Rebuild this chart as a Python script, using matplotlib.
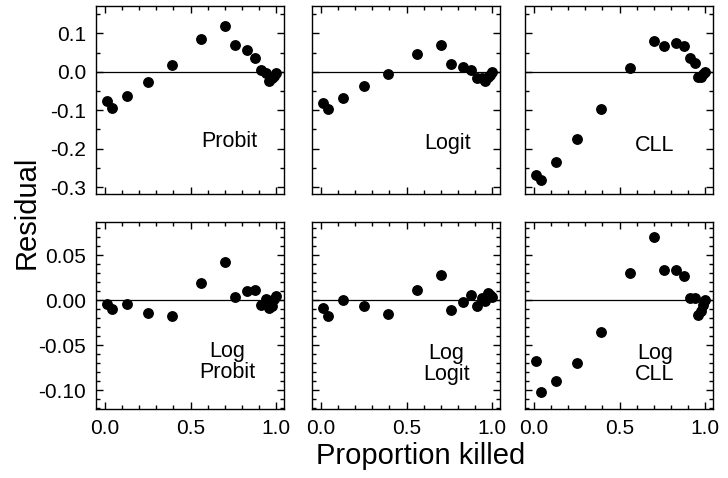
import numpy as np
import matplotlib
matplotlib.use('Agg')
import matplotlib.pyplot as plt
from matplotlib.ticker import MultipleLocator, FormatStrFormatter

plt.rcParams['font.family'] = ['Liberation Sans', 'DejaVu Sans']

# proportion killed (shared by all six panels)
prop_killed = [0.01, 0.04, 0.13, 0.25, 0.39, 0.56, 0.70, 0.76, 0.83, 0.88,
               0.91, 0.94, 0.96, 0.975, 0.99, 1.0]

# residuals
res_probit = [-0.076, -0.094, -0.064, -0.027, 0.017, 0.084, 0.118, 0.070, 0.056, 0.037,
              0.004, -0.002, -0.024, -0.015, -0.011, -0.002]
res_logit = [-0.082, -0.097, -0.067, -0.038, -0.007, 0.047, 0.069, 0.020, 0.012, 0.005,
             -0.016, -0.016, -0.023, -0.014, -0.008, -0.001]
res_cll = [-0.268, -0.281, -0.235, -0.176, -0.098, 0.011, 0.081, 0.066, 0.074, 0.066,
           0.035, 0.022, -0.013, -0.013, -0.006, 0.0]
res_log_probit = [-0.004, -0.010, -0.004, -0.014, -0.017, 0.019, 0.042, 0.004, 0.010, 0.011,
                  -0.005, 0.001, -0.009, -0.006, 0.001, 0.005]
res_log_logit = [-0.009, -0.017, 0.0, -0.006, -0.015, 0.011, 0.028, -0.011, -0.002, 0.006,
                 -0.006, 0.003, -0.001, 0.008, 0.006, 0.004]
res_log_cll = [-0.068, -0.102, -0.090, -0.070, -0.035, 0.030, 0.070, 0.034, 0.034, 0.027,
               0.003, 0.002, -0.016, -0.012, -0.005, 0.0]

panel_names = ['Probit', 'Logit', 'CLL', 'Log\nProbit', 'Log\nLogit', 'Log\nCLL']
panel_data = [res_probit, res_logit, res_cll, res_log_probit, res_log_logit, res_log_cll]

fig = plt.figure(figsize=(7.28, 4.78), dpi=100)

lefts = [96 / 728, 312 / 728, 525 / 728]
w = 188 / 728
rows = [(1 - 194 / 478, 188 / 478), (1 - 409 / 478, 187 / 478)]
label_pos = [(0.71, 0.28), (0.72, 0.27), (0.69, 0.26),
             (0.70, 0.25), (0.715, 0.24), (0.69, 0.24)]

for i, (name, res) in enumerate(zip(panel_names, panel_data)):
    r, c = divmod(i, 3)
    b, h = rows[r]
    ax = fig.add_axes([lefts[c], b, w, h])
    ax.axhline(0, color='black', lw=0.9, zorder=1)
    ax.plot(prop_killed, res, 'o', color='black', ms=6.8, zorder=3)
    ax.set_xlim(-0.053, 1.047)
    ax.xaxis.set_major_locator(MultipleLocator(0.5))
    ax.xaxis.set_minor_locator(MultipleLocator(0.1))
    ax.xaxis.set_major_formatter(FormatStrFormatter('%.1f'))
    if r == 0:
        ax.set_ylim(-0.318, 0.171)
        ax.yaxis.set_major_locator(MultipleLocator(0.1))
        ax.yaxis.set_minor_locator(MultipleLocator(0.05))
        ax.yaxis.set_major_formatter(FormatStrFormatter('%.1f'))
        ax.tick_params(labelbottom=False)
    else:
        ax.set_ylim(-0.121, 0.087)
        ax.yaxis.set_major_locator(MultipleLocator(0.05))
        ax.yaxis.set_minor_locator(MultipleLocator(0.01))
        ax.yaxis.set_major_formatter(FormatStrFormatter('%.2f'))
    if c > 0:
        ax.tick_params(labelleft=False)
    ax.tick_params(which='both', direction='in', top=True, right=True, width=1.0,
                   labelsize=15, pad=7)
    ax.tick_params(which='major', length=5)
    ax.tick_params(which='minor', length=3)
    for s in ax.spines.values():
        s.set_linewidth(1.0)
    lx, ly = label_pos[i]
    ax.text(lx, ly, name, transform=ax.transAxes, ha='center', va='center',
            fontsize=15.5, linespacing=1.0)

fig.text(27 / 728, 1 - 212 / 478, 'Residual', rotation=90, ha='center', va='center', fontsize=21)
fig.text(421 / 728, 1 - 456 / 478, 'Proportion killed', ha='center', va='center', fontsize=21)

fig.savefig('out.png', dpi=100)
